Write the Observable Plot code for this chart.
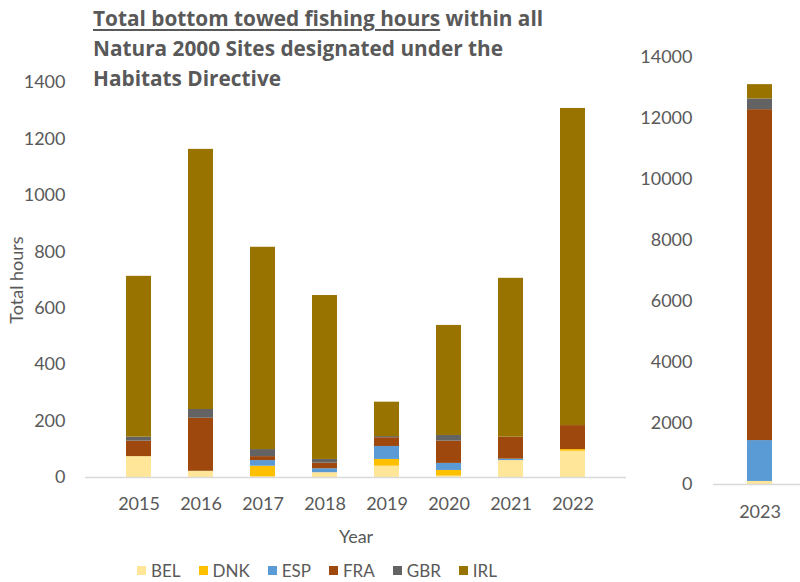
<!DOCTYPE html>
<html>
<head>
<meta charset="utf-8">
<script src="https://cdn.jsdelivr.net/npm/d3@7"></script>
<script src="https://cdn.jsdelivr.net/npm/@observablehq/plot@0.6"></script>
<style>
  html, body { margin: 0; padding: 0; background: #fff; }
  #wrap { position: relative; width: 800px; height: 582px; overflow: hidden; font-family: Lato, "Open Sans", sans-serif; color: #595959; }
  #title { position: absolute; left: 93px; top: 3px; font-family: "Open Sans", Lato, sans-serif; font-weight: bold; font-size: 20.8px; line-height: 30px; color: #595959; z-index: 2; white-space: nowrap; }
  #title u { text-decoration-thickness: 1.5px; text-underline-offset: 3px; }
  #left { position: absolute; left: 0; top: 0; width: 640px; }
  #right { position: absolute; left: 630px; top: 0; width: 180px; }
  #left svg, #right svg { max-width: none; }
  #legend { position: absolute; left: 137px; top: 560px; display: flex; font-size: 17px; }
  .item { display: flex; align-items: center; margin-right: 18px; }
  .sw { width: 9px; height: 9px; margin-right: 5px; }
</style>
</head>
<body>
<div id="wrap">
  <div id="title"><u>Total bottom towed fishing hours</u> within all<br>Natura 2000 Sites designated under the<br>Habitats Directive</div>
  <div id="left"></div>
  <div id="right"></div>
  <div id="legend"></div>
</div>
<script>
// Data
const years = ["2015", "2016", "2017", "2018", "2019", "2020", "2021", "2022"];
const countries = ["BEL", "DNK", "ESP", "FRA", "GBR", "IRL"];
const colors = ["#FFE699", "#FFC000", "#5B9BD5", "#9E480E", "#636363", "#997300"];
const BEL = [74, 22, 2, 17, 40, 5, 60, 93];
const DNK = [0, 0, 38, 0, 24, 20, 0, 6];
const ESP = [0, 0, 20, 14, 46, 25, 5, 0];
const FRA = [55, 188, 14, 20, 31, 79, 78, 85];
const GBR = [14, 31, 25, 13, 4, 20, 0, 0];
const IRL = [570, 922, 717, 581, 122, 390, 563, 1124];

const year2023 = ["2023"];
const BEL2023 = [100];
const DNK2023 = [0];
const ESP2023 = [1340];
const FRA2023 = [10850];
const GBR2023 = [350];
const IRL2023 = [470];

const leftTicks = [0, 200, 400, 600, 800, 1000, 1200, 1400];
const rightTicks = [0, 2000, 4000, 6000, 8000, 10000, 12000, 14000];

const seriesMain = {BEL, DNK, ESP, FRA, GBR, IRL};
const series2023 = {BEL: BEL2023, DNK: DNK2023, ESP: ESP2023, FRA: FRA2023, GBR: GBR2023, IRL: IRL2023};

function tidy(xs, ser) {
  const rows = [];
  xs.forEach((x, i) => countries.forEach(c => rows.push({x, country: c, value: ser[c][i]})));
  return rows;
}

const font = {fontSize: "18px", fontFamily: "Lato, 'Open Sans', sans-serif", color: "#595959", background: "transparent", overflow: "visible"};
const colorScale = {domain: countries, range: colors};

const left = Plot.plot({
  width: 640, height: 560,
  marginTop: 82, marginBottom: 83, marginLeft: 85, marginRight: 14,
  style: font,
  x: {domain: years, padding: 0.59, label: null},
  y: {domain: [0, 1400], label: null},
  color: colorScale,
  marks: [
    Plot.barY(tidy(years, seriesMain), {x: "x", y: "value", fill: "country", order: countries}),
    Plot.ruleY([0], {stroke: "#d9d9d9", strokeWidth: 1.5}),
    Plot.axisX({tickSize: 0, tickPadding: 20, label: "Year", labelAnchor: "center", labelOffset: 65, labelArrow: "none"}),
    Plot.axisY({ticks: leftTicks, tickSize: 0, tickPadding: 20, tickFormat: d => String(d), label: "Total hours", labelAnchor: "center", labelOffset: 75, labelArrow: "none"})
  ]
});
document.getElementById("left").appendChild(left);

const right = Plot.plot({
  width: 180, height: 560,
  marginTop: 57, marginBottom: 76, marginLeft: 83, marginRight: 3,
  style: font,
  x: {domain: year2023, padding: 0.57, label: null},
  y: {domain: [0, 14000], label: null},
  color: colorScale,
  marks: [
    Plot.barY(tidy(year2023, series2023), {x: "x", y: "value", fill: "country", order: countries}),
    Plot.ruleY([0], {stroke: "#d9d9d9", strokeWidth: 1.5}),
    Plot.axisX({tickSize: 0, tickPadding: 21, label: null}),
    Plot.axisY({ticks: rightTicks, tickSize: 0, tickPadding: 21, tickFormat: d => String(d), label: null})
  ]
});
document.getElementById("right").appendChild(right);

const legend = document.getElementById("legend");
countries.forEach((c, i) => {
  const it = document.createElement("div");
  it.className = "item";
  const sw = document.createElement("span");
  sw.className = "sw";
  sw.style.background = colors[i];
  const t = document.createElement("span");
  t.textContent = c;
  it.appendChild(sw); it.appendChild(t);
  legend.appendChild(it);
});
</script>
</body>
</html>
